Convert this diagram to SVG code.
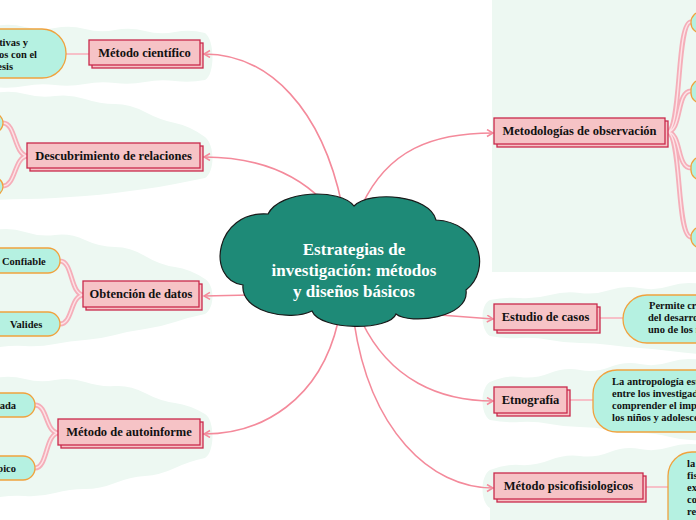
<svg xmlns="http://www.w3.org/2000/svg" width="696" height="520" viewBox="0 0 696 520">
<defs>
<marker id="arr" markerUnits="userSpaceOnUse" markerWidth="10" markerHeight="10" refX="7" refY="4" orient="auto">
<path d="M1,0.5 L7,4 L1,7.5" fill="none" stroke="#f48a9b" stroke-width="1.5"/>
</marker>
<style>
.bg{fill:#edf8f2}
.main,.sh{fill:#f6c3c6;stroke:#c92a4c;stroke-width:1.3}
.lbl{font-family:"Liberation Serif",serif;font-weight:bold;font-size:12.5px;fill:#111;text-anchor:middle}
.conn{fill:none;stroke:#f48a9b;stroke-width:1.6;marker-end:url(#arr)}
.rib{fill:none;stroke:#f5aeb9;stroke-width:5}
.rib2{fill:none;stroke:#fde3e7;stroke-width:1.4}
.pill{fill:#b5f1e1;stroke:#f0a23e;stroke-width:1.3}
.ct{font-family:"Liberation Serif",serif;font-weight:bold;font-size:10.5px;fill:#111}
.link{stroke:#f6c0c8;stroke-width:2}
.root{font-family:"Liberation Serif",serif;font-weight:bold;font-size:17px;fill:#fff;text-anchor:middle}
</style>
</defs>
<rect width="696" height="520" fill="#fff"/>

<g id="backgrounds">
<path class="bg" d="M-5,26 q15,-3 30,1 t30,1 t30,1 t30,1 t30,1 t30,1 t30,1 C215,40 215,75 205,80 q-15,3 -30,1 t-30,1 t-30,1 t-30,1 t-30,1 t-30,1 t-30,1 Z"/>
<path class="bg" d="M-5,93 q15,-3 30,1 t30,2 t30,3 t30,5 t30,8 t30,11 t30,14 C215,145 215,172 205,178 q-15,3 -30,6 t-30,5 t-30,4 t-30,3 t-30,2 t-30,1 t-30,1 Z"/>
<path class="bg" d="M-5,230 q15,-3 30,2 t30,3 t30,5 t30,7 t30,9 t30,11 t30,12 C215,285 215,308 205,314 q-15,3 -30,8 t-30,7 t-30,6 t-30,5 t-30,4 t-30,2 t-30,2 Z"/>
<path class="bg" d="M-5,378 q15,-3 30,1 t30,1 t30,2 t30,4 t30,7 t30,10 t30,11 C215,420 215,452 205,458 q-15,3 -30,10 t-30,8 t-30,7 t-30,6 t-30,4 t-30,3 t-30,2 Z"/>
<rect class="bg" x="492" y="0" width="204" height="272"/>
<path class="bg" d="M700,284 q-15,-3 -30,2 t-30,2 t-30,2 t-30,3 t-30,2 t-30,3 t-30,2 C480,304 480,330 490,336 q15,3 30,2 t30,2 t30,3 t30,2 t30,3 t30,3 t30,3 Z"/>
<path class="bg" d="M700,360 q-15,-3 -30,2 t-30,2 t-30,3 t-30,3 t-30,3 t-30,4 t-30,5 C480,388 480,414 490,420 q15,3 30,2 t30,2 t30,3 t30,3 t30,3 t30,4 t30,3 Z"/>
<path class="bg" d="M700,445 q-15,-3 -30,2 t-30,2 t-30,3 t-30,4 t-30,4 t-30,5 t-30,5 C480,476 480,502 490,508 L490,525 L700,525 Z"/>
</g>

<g id="connectors">
<path class="conn" d="M342,205 C322,110 270,54 204,54"/>
<path class="conn" d="M322,200 C292,170 252,157 204,157"/>
<path class="conn" d="M250,295 L204,296"/>
<path class="conn" d="M338,322 C320,400 262,434 204,434"/>
<path class="conn" d="M362,205 C388,150 432,133 493,133"/>
<path class="conn" d="M440,315 L493,319"/>
<path class="conn" d="M362,322 C390,380 440,401 493,401"/>
<path class="conn" d="M354,322 C370,430 430,488 493,488"/>
</g>

<g id="branches">
<line class="link" x1="66" y1="54" x2="89" y2="54"/>
<path class="rib" d="M28,156 C14,156 16,123 3,123 M28,156 C14,156 16,186 3,186"/>
<path class="rib2" d="M28,156 C14,156 16,123 3,123 M28,156 C14,156 16,186 3,186"/>
<path class="rib" d="M84,295 C70,295 73,261 60,261 M84,295 C70,295 73,324 60,324"/>
<path class="rib2" d="M84,295 C70,295 73,261 60,261 M84,295 C70,295 73,324 60,324"/>
<path class="rib" d="M59,433 C45,433 48,405 35,405 M59,433 C45,433 48,468 35,468"/>
<path class="rib2" d="M59,433 C45,433 48,405 35,405 M59,433 C45,433 48,468 35,468"/>
<path class="rib" d="M667,132 C682,132 676,22 691,22 M667,132 C682,132 676,91 691,91 M667,132 C682,132 676,168 691,168 M667,132 C682,132 676,237 691,237"/>
<path class="rib2" d="M667,132 C682,132 676,22 691,22 M667,132 C682,132 676,91 691,91 M667,132 C682,132 676,168 691,168 M667,132 C682,132 676,237 691,237"/>
<line class="link" x1="598" y1="318" x2="623" y2="318"/>
<line class="link" x1="568" y1="400" x2="593" y2="400"/>
<line class="link" x1="644" y1="487" x2="668" y2="487"/>
</g>

<g id="root">
<path d="M268,214 C280,190 340,188 354,206 C370,190 430,195 436,220 C480,222 492,270 466,290 C470,318 410,325 396,314 C390,331 320,331 312,311 C290,322 240,312 243,285 C205,280 215,210 268,214 Z" fill="#1e8a77" stroke="#1a1a1a" stroke-width="1.2"/>
<text class="root" x="354" y="255">Estrategias de</text>
<text class="root" x="354" y="276">investigación: métodos</text>
<text class="root" x="354" y="297">y diseños básicos</text>
</g>

<g id="n-metodo-cientifico">
<rect class="sh" x="92" y="43" width="111" height="25"/>
<rect class="main" x="89" y="40" width="111" height="25"/>
<text class="lbl" x="144.5" y="57">Método científico</text>
</g>
<g id="n-metodo-cientifico-child">
<rect class="pill" x="-80" y="29" width="146" height="49" rx="24"/>
<text class="ct" x="28" y="46" text-anchor="end">tivas y</text>
<text class="ct" x="37" y="58" text-anchor="end">os con el</text>
<text class="ct" x="13" y="70" text-anchor="end">esis</text>
</g>

<g id="n-descubrimiento">
<rect class="sh" x="30" y="146" width="173" height="25"/>
<rect class="main" x="27" y="143" width="173" height="25"/>
<text class="lbl" x="113.5" y="160">Descubrimiento de relaciones</text>
</g>
<g id="n-descubrimiento-c1"><rect class="pill" x="-60" y="113" width="63" height="20" rx="10"/></g>
<g id="n-descubrimiento-c2"><rect class="pill" x="-60" y="177" width="63" height="19" rx="10"/></g>

<g id="n-obtencion">
<rect class="sh" x="86" y="284" width="116" height="26"/>
<rect class="main" x="83" y="281" width="116" height="26"/>
<text class="lbl" x="141" y="298">Obtención de datos</text>
</g>
<g id="n-confiable">
<rect class="pill" x="-40" y="248" width="100" height="25" rx="12"/>
<text class="ct" x="2" y="265">Confiable</text>
</g>
<g id="n-valides">
<rect class="pill" x="-40" y="312" width="100" height="24" rx="12"/>
<text class="ct" x="10" y="328">Valides</text>
</g>

<g id="n-autoinforme">
<rect class="sh" x="61" y="422" width="142" height="26"/>
<rect class="main" x="58" y="419" width="142" height="26"/>
<text class="lbl" x="129" y="436">Método de autoinforme</text>
</g>
<g id="n-autoinforme-c1">
<rect class="pill" x="-60" y="393" width="95" height="24" rx="12"/>
<text class="ct" x="16" y="409" text-anchor="end">rada</text>
</g>
<g id="n-autoinforme-c2">
<rect class="pill" x="-60" y="456" width="95" height="24" rx="12"/>
<text class="ct" x="16" y="472" text-anchor="end">pico</text>
</g>

<g id="n-observacion">
<rect class="sh" x="497" y="121" width="171" height="26"/>
<rect class="main" x="494" y="118" width="171" height="26"/>
<text class="lbl" x="579.5" y="135">Metodologías de observación</text>
</g>
<g id="n-obs-c1"><rect class="pill" x="691" y="12" width="60" height="21" rx="10"/></g>
<g id="n-obs-c2"><rect class="pill" x="691" y="80" width="60" height="23" rx="10"/></g>
<g id="n-obs-c3"><rect class="pill" x="691" y="157" width="60" height="23" rx="10"/></g>
<g id="n-obs-c4"><rect class="pill" x="691" y="227" width="60" height="21" rx="10"/></g>

<g id="n-estudio">
<rect class="sh" x="497" y="307" width="103" height="26"/>
<rect class="main" x="494" y="304" width="103" height="26"/>
<text class="lbl" x="545.5" y="321">Estudio de casos</text>
</g>
<g id="n-estudio-child">
<rect class="pill" x="623" y="295" width="120" height="48" rx="24"/>
<text class="ct" x="649" y="309">Permite cre</text>
<text class="ct" x="648" y="321">del desarrol</text>
<text class="ct" x="648" y="333">uno de los n</text>
</g>

<g id="n-etnografia">
<rect class="sh" x="497" y="390" width="73" height="26"/>
<rect class="main" x="494" y="387" width="73" height="26"/>
<text class="lbl" x="530.5" y="404">Etnografía</text>
</g>
<g id="n-etnografia-child">
<rect class="pill" x="593" y="370" width="150" height="62" rx="24"/>
<text class="ct" x="612" y="385">La antropología esta</text>
<text class="ct" x="612" y="397">entre los investigado</text>
<text class="ct" x="612" y="409">comprender el impa</text>
<text class="ct" x="612" y="421">los niños y adolescen</text>
</g>

<g id="n-psico">
<rect class="sh" x="497" y="476" width="149" height="26"/>
<rect class="main" x="494" y="473" width="149" height="26"/>
<text class="lbl" x="568.5" y="490">Método psicofisiologicos</text>
</g>
<g id="n-psico-child">
<rect class="pill" x="668" y="452" width="80" height="90" rx="24"/>
<text class="ct" x="687" y="467">la</text>
<text class="ct" x="687" y="479">fis</text>
<text class="ct" x="687" y="491">ex</text>
<text class="ct" x="687" y="503">co</text>
<text class="ct" x="687" y="515">re</text>
</g>
</svg>
